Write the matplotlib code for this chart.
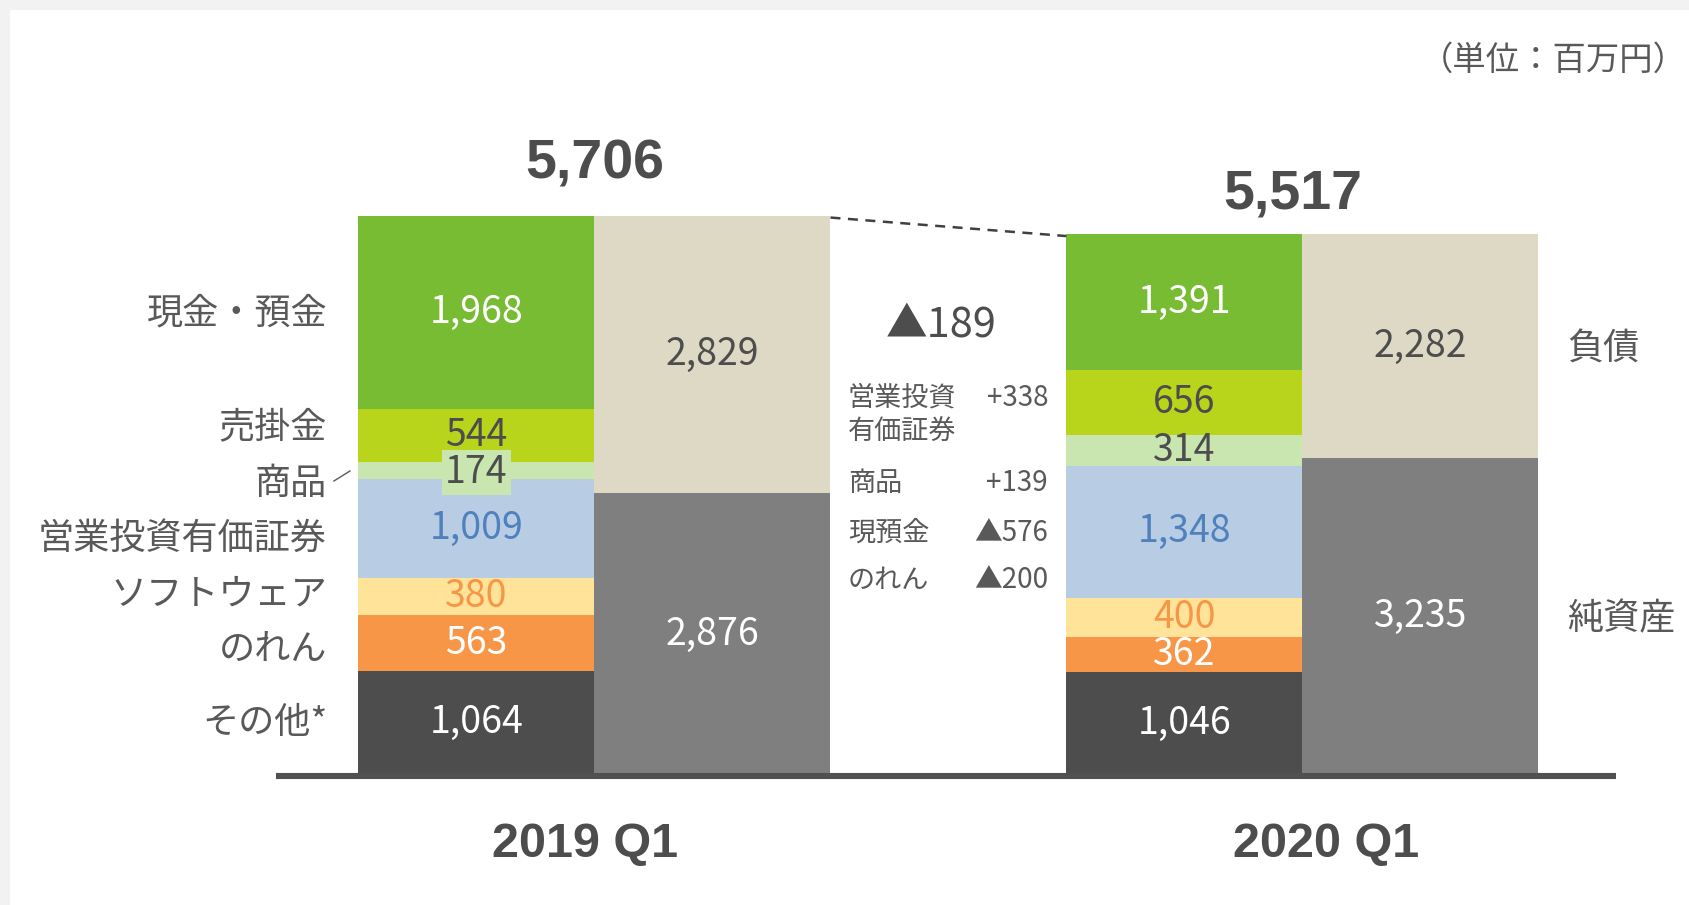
import matplotlib.pyplot as plt
import matplotlib.patches as mpatches

plt.rcParams['font.family'] = ['Noto Sans CJK JP', 'DejaVu Sans']

# 資産の内訳（下から順）
asset_names = ["その他*", "のれん", "ソフトウェア", "営業投資有価証券", "商品", "売掛金", "現金・預金"]
assets_2019 = [1064, 563, 380, 1009, 174, 544, 1968]
assets_2020 = [1046, 362, 400, 1348, 314, 656, 1391]
asset_labels_2019 = ["1,064", "563", "380", "1,009", "174", "544", "1,968"]
asset_labels_2020 = ["1,046", "362", "400", "1,348", "314", "656", "1,391"]

# 負債・純資産（下から順）
liab_names = ["純資産", "負債"]
liab_2019 = [2876, 2829]
liab_2020 = [3235, 2282]
liab_labels_2019 = ["2,876", "2,829"]
liab_labels_2020 = ["3,235", "2,282"]

totals = [5706, 5517]
total_labels = ["5,706", "5,517"]
periods = ["2019 Q1", "2020 Q1"]

diff_label = "▲189"
diff_names = ["営業投資\n有価証券", "商品", "現預金", "のれん"]
diff_values = ["+338", "+139", "▲576", "▲200"]

asset_colors = ["#4d4d4d", "#f79646", "#ffe399", "#b8cce4", "#c9e5b0", "#b8d41b", "#77bc32"]
asset_text_colors = ["white", "white", "#f79646", "#4f81bd", "#4d4d4d", "#4d4d4d", "white"]
liab_colors = ["#7f7f7f", "#ddd9c4"]
liab_text_colors = ["white", "#4d4d4d"]

label_gray = "#595959"
dark = "#4d4d4d"
latin_bold = ["Liberation Sans", "DejaVu Sans"]

fig = plt.figure(figsize=(16.9, 9.05), dpi=100, facecolor="#f2f2f2")
ax = fig.add_axes([0, 0, 1, 1])
ax.set_facecolor("none")
ax.set_xlim(-2.019, 5.142)
ax.set_ylim(-1326, 7905)
ax.axis("off")
ax.add_patch(mpatches.Rectangle((10 / 1690, 0), 1, 1 - 10 / 905,
                                transform=fig.transFigure, clip_on=False,
                                facecolor="white", edgecolor="none", zorder=0))


def stack(x, values, colors, labels, text_colors, size=27):
    bottom = 0
    for v, c, lab, tc in zip(values, colors, labels, text_colors):
        ax.bar(x, v, bottom=bottom, width=1.0, color=c, edgecolor="none", zorder=2)
        t = ax.text(x, bottom + v / 2, lab, ha="center", va="center",
                    color=tc, fontsize=size, zorder=4)
        if lab == "174":
            t.set_y(bottom + v / 2 - 15)
            t.set_bbox(dict(boxstyle="square,pad=0.08", facecolor=c, edgecolor="none"))
        bottom += v


stack(0, assets_2019, asset_colors, asset_labels_2019, asset_text_colors)
stack(1, liab_2019, liab_colors, liab_labels_2019, liab_text_colors)
stack(3, assets_2020, asset_colors, asset_labels_2020, asset_text_colors)
stack(4, liab_2020, liab_colors, liab_labels_2020, liab_text_colors)

# 基線
ax.plot([-0.85, 4.83], [-10, -10], color="#505050", lw=4.4, solid_capstyle="butt", zorder=3)

# 合計と期間
ax.text(0.5, totals[0] + 380, total_labels[0], ha="center", va="baseline",
        fontsize=40, fontweight="bold", color=dark, family=latin_bold)
ax.text(3.46, totals[1] + 260, total_labels[1], ha="center", va="baseline",
        fontsize=40, fontweight="bold", color=dark, family=latin_bold)
for x, p in zip([0.46, 3.60], periods):
    ax.text(x, -836, p, ha="center", va="baseline", fontsize=35,
            fontweight="bold", color=dark, family=latin_bold)

# 差額の破線
ax.plot([1.5, 2.5], [totals[0] - 20, totals[1] - 20], color="#404040",
        lw=1.8, ls=(0, (4, 3)), zorder=3)

# 左の科目名
left_y = [526, 1271, 1842, 2413, 2974, 3545, 4708]
for y, name in zip(left_y, asset_names):
    ax.text(-0.633, y, name, ha="right", va="center", fontsize=26, color=label_gray)
ax.plot([-0.604, -0.536], [2999, 3101], color=label_gray, lw=1.0)

# 右の科目名
for y, name in zip([1585, 4340], liab_names):
    ax.text(4.62, y, name, ha="left", va="center", fontsize=26, color=label_gray)

# 増減の説明
ax.text(1.968, 4590, diff_label, ha="center", va="center", fontsize=30, color=dark)
diff_y = [3846, 2978, 2468, 1989]
for y, name, val in zip(diff_y, diff_names, diff_values):
    for i, line in enumerate(name.split("\n")):
        ax.text(1.574, y - 347 * i, line, ha="left", va="center",
                fontsize=19.5, color=label_gray)
    ax.text(2.422, y, val, ha="right", va="center", fontsize=20, color=label_gray)

fig.text(1687 / 1690, 1 - 60 / 905, "（単位：百万円）", ha="right", va="center",
         fontsize=24, color=label_gray)

fig.savefig("out.png", dpi=100, facecolor=fig.get_facecolor())
